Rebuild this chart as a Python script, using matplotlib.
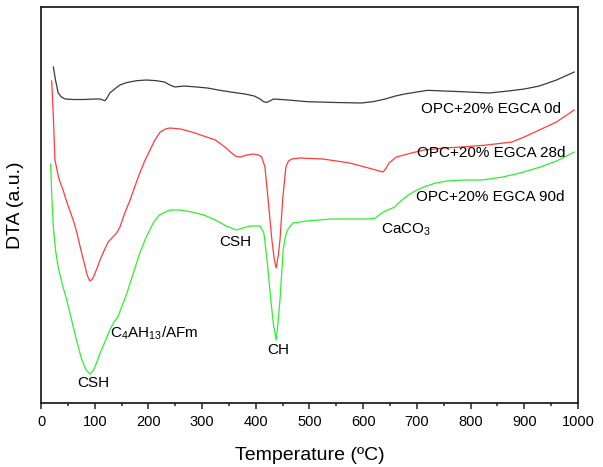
import matplotlib
matplotlib.use('Agg')
import matplotlib.pyplot as plt
from matplotlib.ticker import MultipleLocator

plt.rcParams['font.family'] = ['Liberation Sans', 'DejaVu Sans']
plt.rcParams['mathtext.fontset'] = 'custom'
plt.rcParams['mathtext.rm'] = 'Liberation Sans'
plt.rcParams['mathtext.it'] = 'Liberation Sans'

# curva 0d (nera)
t_0d = [23, 27, 32, 38, 45, 60, 80, 100, 110, 115, 119, 123, 128, 137, 147, 160, 178, 196,
        215, 230, 240, 249, 258, 267, 290, 310, 330, 353, 380, 397, 408, 414, 420, 426, 433,
        460, 497, 550, 597, 620, 641, 660, 677, 700, 720, 750, 784, 835, 870, 900, 928, 960, 993]
dta_0d = [336, 323, 310, 306, 304, 303.5, 303.5, 304, 304, 303, 302.3, 305, 310, 314, 318, 320.5,
          322.3, 323, 322.3, 321, 318, 316, 316.5, 317, 316, 315, 313, 311, 309, 307, 304, 301.5,
          300.5, 302, 304, 303, 301.3, 300.5, 300, 301.5, 304, 307, 309, 311, 312.7, 312, 311.3,
          310, 312, 314, 317, 323, 331]

# curva 28d (rossa)
t_28d = [20, 23, 26, 33, 41, 50, 60, 67, 73, 80, 86, 91, 96, 103, 110, 118, 125, 134, 141, 147,
         156, 166, 175, 184, 193, 203, 212, 222, 232, 240, 260, 281, 303, 325, 340, 353, 362, 371,
         383, 395, 405, 411, 417, 423, 430, 434, 438, 442, 445, 450, 456, 461, 467, 482, 525, 575,
         610, 630, 637, 643, 648, 662, 690, 713, 750, 784, 830, 877, 900, 928, 960, 993]
dta_28d = [322, 286, 243, 225, 213, 198, 183, 170, 156, 141, 128, 122, 124, 133, 143, 153, 161,
           166, 170, 176, 190, 203, 217, 230, 242, 253, 263, 271, 274, 275, 274, 271, 267, 263,
           257, 251, 247, 246, 248, 249, 248, 246, 236, 203, 163, 145, 135, 148, 163, 203, 236,
           242, 244, 245, 244, 240, 235, 232, 231, 235, 240, 246, 250, 253, 255, 256, 258, 261,
           266, 273, 281, 293]

# curva 90d (verde)
t_90d = [18, 20, 23, 27, 32, 40, 48, 57, 66, 75, 83, 91, 97, 104, 110, 119, 128, 136, 143, 151,
         160, 172, 184, 196, 209, 220, 240, 260, 281, 303, 325, 345, 364, 376, 389, 408, 415, 421,
         428, 433, 438, 441, 445, 451, 455, 459, 469, 495, 540, 575, 610, 623, 632, 641, 650, 659,
         670, 684, 700, 713, 735, 756, 790, 821, 860, 892, 930, 960, 993]
dta_90d = [239, 208, 176, 153, 136, 118, 103, 83, 63, 45, 34, 29, 32, 41, 50, 61, 73, 81, 86, 97,
           110, 130, 150, 166, 180, 188, 193, 193, 191, 188, 183, 177, 173, 175, 177, 177, 170,
           143, 103, 78, 63, 78, 103, 153, 166, 173, 180, 182, 184, 184, 184, 185, 189, 192, 194,
           196, 202, 208, 213, 216, 220, 222, 223, 223, 226, 230, 236, 242, 251]

fig = plt.figure(figsize=(6.03, 4.67), dpi=100)
ax = fig.add_axes([0.068, 0.137, 0.8905, 0.848])

ax.plot(t_0d, dta_0d, color='#3a3a3a', lw=0.9)
ax.plot(t_28d, dta_28d, color='#ff3b3b', lw=0.9)
ax.plot(t_90d, dta_90d, color='#2ef02e', lw=0.9)

fs = 11
ax.text(707, 294, 'OPC+20% EGCA 0d', fontsize=fs, ha='left', va='center')
ax.text(700, 250, 'OPC+20% EGCA 28d', fontsize=fs, ha='left', va='center')
ax.text(698, 206, 'OPC+20% EGCA 90d', fontsize=fs, ha='left', va='center')
ax.text(634, 173, r'CaCO$_3$', fontsize=fs, ha='left', va='center')
ax.text(362, 161, 'CSH', fontsize=fs, ha='center', va='center')
ax.text(441, 53, 'CH', fontsize=fs, ha='center', va='center')
ax.text(128, 70, r'C$_4$AH$_{13}$/AFm', fontsize=fs, ha='left', va='center')
ax.text(97, 20, 'CSH', fontsize=fs, ha='center', va='center')

ax.set_xlim(0, 1000)
ax.set_ylim(0, 396)
ax.xaxis.set_major_locator(MultipleLocator(100))
ax.xaxis.set_minor_locator(MultipleLocator(50))
ax.tick_params(axis='x', which='major', direction='out', length=4.5, width=1.1,
               labelsize=10.5, pad=4, colors='#222222', labelcolor='black')
ax.tick_params(axis='x', which='minor', direction='out', length=2.5, width=1.1, colors='#222222')
ax.set_yticks([])
for s in ax.spines.values():
    s.set_linewidth(1.3)
    s.set_color('#222222')

ax.set_xlabel('Temperature (ºC)', fontsize=14, labelpad=13)
ax.set_ylabel('DTA (a.u.)', fontsize=14, labelpad=12)

plt.savefig('out.png', dpi=100)
